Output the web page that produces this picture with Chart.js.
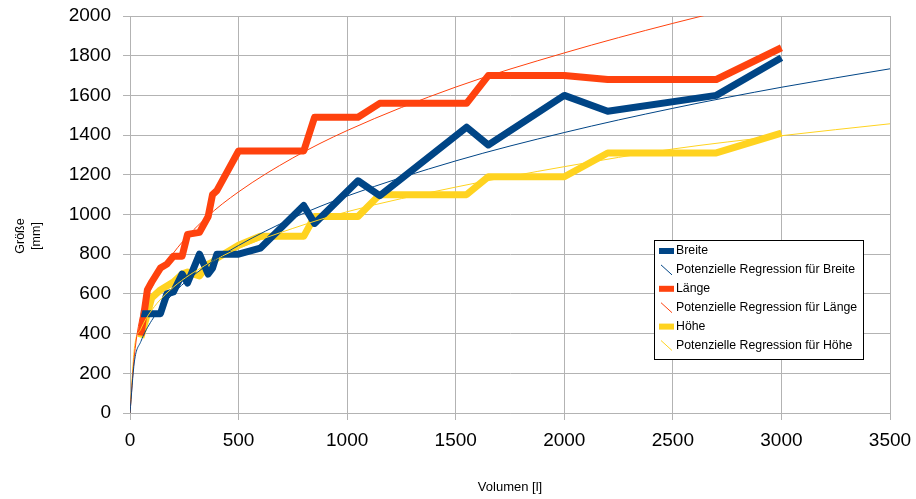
<!DOCTYPE html>
<html>
<head>
<meta charset="utf-8">
<script src="https://cdn.jsdelivr.net/npm/chart.js@4.4.1/dist/chart.umd.min.js"></script>
<style>
  html, body { margin: 0; padding: 0; background: #fff; }
  #wrap { width: 916px; height: 499px; }
</style>
</head>
<body>
<div id="wrap"><canvas id="myChart" width="916" height="499"></canvas></div>
<script>
// Messwerte (Volumen in l, Maße in mm)
const volumen = [50, 80, 100, 140, 170, 200, 240, 265, 320, 360, 380, 400, 500, 600, 800, 850, 1050, 1150, 1550, 1650, 2000, 2200, 2700, 3000];
const breite  = [500, 500, 500, 500, 600, 610, 700, 655, 800, 700, 730, 800, 800, 830, 1045, 955, 1170, 1095, 1440, 1350, 1600, 1520, 1600, 1790];
const laenge  = [390, 620, 660, 730, 750, 790, 790, 900, 910, 990, 1100, 1120, 1320, 1320, 1320, 1490, 1490, 1560, 1560, 1700, 1700, 1680, 1680, 1840];
const hoehe   = [380, 500, 580, 620, 640, 660, 700, 710, 690, 750, 760, 780, 845, 890, 890, 990, 990, 1100, 1100, 1190, 1190, 1310, 1310, 1410];

// Regressionskurven
const trendX       = [0, 20, 50, 100, 200, 350, 500, 750, 1000, 1500, 2000, 2500, 3000, 3500];
const trendBreite  = [0, 257, 360, 466, 603, 741, 844, 982, 1093, 1270, 1413, 1535, 1641, 1734];
const trendLaenge  = [0, 287, 496, 632, 806, 983, 1114, 1285, 1423, 1642, 1814, 1963, 2094, 2211];
const trendHoehe   = [0, 324, 423, 518, 634, 746, 829, 930, 1014, 1138, 1241, 1330, 1397, 1457];

const xTicks = [0, 500, 1000, 1500, 2000, 2500, 3000, 3500];
const yTicks = [0, 200, 400, 600, 800, 1000, 1200, 1400, 1600, 1800, 2000];

const BLUE = '#004586', RED = '#ff420e', YELLOW = '#ffd320';
const GRID = '#b3b3b3';
const FONT = '"Liberation Sans", Arial, sans-serif';

function pts(xs, ys) {
    return xs.map((x, i) => ({ x: x, y: ys[i] }));
}

function thick(label, values, color) {
    return {
        label: label,
        data: pts(volumen, values),
        borderColor: color,
        backgroundColor: color,
        borderWidth: 7,
        borderJoinStyle: 'round',
        pointRadius: 0,
        tension: 0,
        order: 1,
        legendKind: 'box'
    };
}

function trend(label, values, color) {
    return {
        label: label,
        data: pts(trendX, values),
        borderColor: color,
        backgroundColor: color,
        borderWidth: 1,
        pointRadius: 0,
        cubicInterpolationMode: 'monotone',
        order: 0,
        legendKind: 'line'
    };
}

// Legende im Diagramm
const innerLegend = {
    id: 'innerLegend',
    afterDraw(chart) {
        const ctx = chart.ctx;
        const area = chart.chartArea;
        const bx = area.right - 236, by = area.top + 224, bw = 209, bh = 119;
        ctx.save();
        ctx.fillStyle = '#fff';
        ctx.fillRect(bx, by, bw, bh);
        ctx.strokeStyle = '#000';
        ctx.lineWidth = 1;
        ctx.strokeRect(bx + 0.5, by + 0.5, bw, bh);
        ctx.font = '12.3px ' + FONT;
        ctx.textBaseline = 'middle';
        chart.data.datasets.forEach((ds, i) => {
            const y = by + 11 + i * 18.9;
            if (ds.legendKind === 'box') {
                ctx.fillStyle = ds.borderColor;
                ctx.fillRect(bx + 5, y - 3, 15, 6);
            } else {
                ctx.strokeStyle = ds.borderColor;
                ctx.beginPath();
                ctx.moveTo(bx + 7, y - 5);
                ctx.lineTo(bx + 18, y + 5);
                ctx.stroke();
            }
            ctx.fillStyle = '#000';
            ctx.fillText(ds.label, bx + 22, y);
        });
        ctx.restore();
    }
};

// Achsentitel y (zweizeilig, gedreht)
const yTitle = {
    id: 'yTitle',
    afterDraw(chart) {
        const ctx = chart.ctx;
        ctx.save();
        ctx.font = '12.5px ' + FONT;
        ctx.fillStyle = '#000';
        ctx.textAlign = 'center';
        ctx.textBaseline = 'middle';
        ctx.translate(21, 236);
        ctx.rotate(-Math.PI / 2);
        ctx.fillText('Größe', 0, 0);
        ctx.fillText('[mm]', 0, 16);
        ctx.restore();
    }
};

const ctx = document.getElementById('myChart').getContext('2d');
new Chart(ctx, {
    type: 'line',
    data: {
        datasets: [
            thick('Breite', breite, BLUE),
            trend('Potenzielle Regression für Breite', trendBreite, BLUE),
            thick('Länge', laenge, RED),
            trend('Potenzielle Regression für Länge', trendLaenge, RED),
            thick('Höhe', hoehe, YELLOW),
            trend('Potenzielle Regression für Höhe', trendHoehe, YELLOW)
        ]
    },
    options: {
        responsive: false,
        animation: false,
        layout: { padding: { left: 0, right: 26, top: 16, bottom: 0 } },
        plugins: {
            legend: { display: false },
            tooltip: { enabled: false }
        },
        scales: {
            x: {
                type: 'linear',
                min: 0,
                max: 3500,
                afterBuildTicks: (s) => { s.ticks = xTicks.map(v => ({ value: v })); },
                afterFit: (s) => { s.height = 86; s.paddingLeft = 0; s.paddingRight = 0; },
                grid: { color: GRID, tickLength: 7, drawTicks: true },
                border: { color: GRID },
                ticks: {
                    color: '#000',
                    padding: 9,
                    maxRotation: 0,
                    callback: (v) => String(v),
                    font: { family: FONT, size: 19 }
                },
                title: {
                    display: true,
                    text: 'Volumen [l]',
                    color: '#000',
                    padding: { top: 0, bottom: 4 },
                    font: { family: FONT, size: 13 }
                }
            },
            y: {
                type: 'linear',
                min: 0,
                max: 2000,
                afterBuildTicks: (s) => { s.ticks = yTicks.map(v => ({ value: v })); },
                afterFit: (s) => { s.width = 130; s.paddingTop = 0; s.paddingBottom = 0; },
                grid: { color: GRID, tickLength: 7, drawTicks: true },
                border: { color: GRID },
                ticks: {
                    color: '#000',
                    padding: 12,
                    callback: (v) => String(v),
                    font: { family: FONT, size: 19 }
                }
            }
        }
    },
    plugins: [innerLegend, yTitle]
});
</script>
</body>
</html>
